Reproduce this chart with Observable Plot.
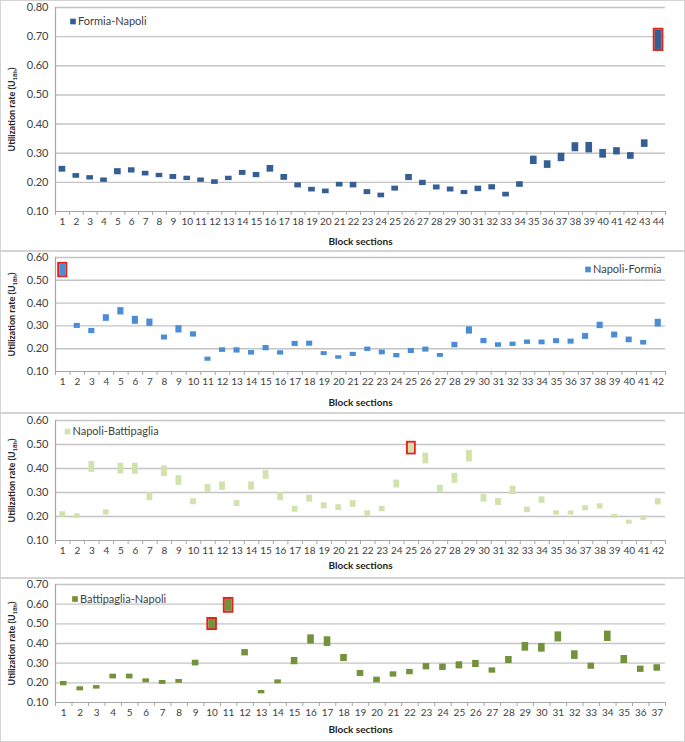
<!DOCTYPE html>
<html>
<head>
<meta charset="utf-8">
<script src="https://cdn.jsdelivr.net/npm/d3@7"></script>
<script src="https://cdn.jsdelivr.net/npm/@observablehq/plot@0.6"></script>
<style>
  html, body { margin: 0; padding: 0; background: #fff; }
  body { width: 685px; font-family: Lato, "Open Sans", sans-serif; }
  .panel { box-sizing: border-box; width: 685px; border: 1px solid #d4d4d4; overflow: hidden; }
  .panel svg { display: block; }
</style>
</head>
<body>
<div id="charts"></div>
<script>
// ---- Data (utilization rate ranges per block section) ----
const formiaNapoliLow  = [0.235,0.214,0.208,0.200,0.226,0.232,0.222,0.216,0.210,0.206,0.200,0.193,0.206,0.224,0.216,0.235,0.207,0.181,0.167,0.161,0.184,0.181,0.158,0.147,0.170,0.206,0.189,0.174,0.167,0.158,0.168,0.174,0.150,0.183,0.261,0.248,0.271,0.305,0.301,0.283,0.294,0.279,0.320,0.656];
const formiaNapoliHigh = [0.255,0.230,0.223,0.215,0.247,0.250,0.238,0.231,0.227,0.221,0.215,0.209,0.221,0.241,0.234,0.258,0.227,0.198,0.183,0.177,0.200,0.200,0.175,0.163,0.187,0.227,0.207,0.191,0.184,0.172,0.187,0.192,0.166,0.202,0.290,0.274,0.300,0.336,0.337,0.313,0.319,0.302,0.346,0.722];
const formiaNapoliFlag = [44];

const napoliFormiaLow  = [0.520,0.289,0.266,0.320,0.348,0.307,0.298,0.238,0.269,0.251,0.145,0.184,0.181,0.172,0.191,0.172,0.210,0.211,0.170,0.154,0.166,0.188,0.173,0.160,0.179,0.185,0.162,0.204,0.264,0.222,0.206,0.210,0.219,0.217,0.222,0.220,0.241,0.288,0.247,0.226,0.216,0.295];
const napoliFormiaHigh = [0.570,0.311,0.289,0.349,0.380,0.342,0.330,0.260,0.301,0.274,0.163,0.204,0.204,0.192,0.214,0.191,0.232,0.233,0.187,0.169,0.184,0.207,0.194,0.179,0.201,0.207,0.179,0.228,0.296,0.245,0.226,0.229,0.238,0.238,0.244,0.242,0.267,0.316,0.273,0.251,0.236,0.329];
const napoliFormiaFlag = [1];

const napoliBattipagliaLow  = [0.196,0.192,0.384,0.206,0.377,0.376,0.266,0.366,0.330,0.249,0.301,0.309,0.242,0.310,0.355,0.266,0.218,0.260,0.232,0.225,0.238,0.202,0.220,0.319,0.465,0.419,0.299,0.338,0.427,0.260,0.246,0.291,0.216,0.255,0.206,0.206,0.224,0.231,0.192,0.168,0.184,0.248];
const napoliBattipagliaHigh = [0.220,0.211,0.429,0.228,0.422,0.422,0.299,0.411,0.370,0.274,0.333,0.344,0.266,0.344,0.391,0.300,0.242,0.289,0.257,0.249,0.266,0.224,0.242,0.352,0.505,0.464,0.330,0.380,0.475,0.292,0.275,0.326,0.239,0.282,0.224,0.223,0.245,0.253,0.209,0.185,0.203,0.274];
const napoliBattipagliaFlag = [25];

const battipagliaNapoliLow  = [0.185,0.159,0.168,0.220,0.220,0.200,0.192,0.198,0.286,0.476,0.564,0.337,0.144,0.195,0.292,0.397,0.385,0.308,0.232,0.200,0.229,0.241,0.266,0.263,0.271,0.278,0.249,0.298,0.361,0.356,0.408,0.319,0.269,0.410,0.298,0.253,0.259];
const battipagliaNapoliHigh = [0.207,0.180,0.186,0.244,0.244,0.220,0.212,0.217,0.315,0.522,0.624,0.369,0.161,0.215,0.329,0.444,0.434,0.344,0.263,0.229,0.256,0.268,0.298,0.295,0.307,0.314,0.276,0.334,0.405,0.400,0.459,0.363,0.300,0.463,0.339,0.285,0.292];
const battipagliaNapoliFlag = [10, 11];

const yTickStep = 0.1;
const xTitle = "Block sections";
const yTitle = "Utilization rate (U18h)";

const FONT = 'Lato, "Open Sans", sans-serif';
const TEXT = "#404040";
const GRID = "#c4c4c4";
const AXIS = "#a6a6a6";

function panel(o) {
  const n = o.low.length;
  const blocks = d3.range(1, n + 1);
  const data = blocks.map((b, i) => ({block: b, lo: o.low[i], hi: o.high[i], flag: o.flag.includes(b)}));
  const yTicks = d3.range(1, Math.round(o.yMax / yTickStep) + 1).map(k => +(k * yTickStep).toFixed(2));
  const bounds = d3.range(0, n + 1).map(k => k + 0.5);
  const hw = o.halfW;
  const plot = Plot.plot({
    width: 683,
    height: o.height,
    marginLeft: 54,
    marginRight: 19,
    marginTop: o.marginTop,
    marginBottom: o.marginBottom,
    style: {fontFamily: FONT, fontSize: "11px", color: TEXT, background: "#fff", overflow: "visible"},
    x: {domain: [0.5, n + 0.5], axis: null},
    y: {domain: [yTicks[0], yTicks[yTicks.length - 1]], axis: null},
    marks: [
      Plot.gridY(yTicks.slice(1), {stroke: GRID, strokeOpacity: 1, strokeWidth: 1.4}),
      Plot.ruleY([yTicks[0]], {stroke: AXIS, strokeWidth: 1.2}),
      Plot.ruleX([bounds[0]], {stroke: AXIS, strokeWidth: 1.2}),
      Plot.axisY({ticks: yTicks, tickSize: 0, tickPadding: 7, tickFormat: d3.format(".2f"), fill: TEXT, fontSize: 11}),
      Plot.axisX({ticks: bounds, tickSize: 4, tickFormat: () => "", stroke: AXIS, label: null}),
      Plot.axisX({ticks: blocks, tickSize: 0, tickPadding: 6, tickFormat: d => String(d), fill: TEXT, fontSize: 10, label: null}),
      Plot.rect(data.filter(d => d.flag), {x1: d => d.block - hw, x2: d => d.block + hw, y1: "lo", y2: "hi", inset: -1, fill: "none", stroke: "#e3231c", strokeWidth: 2}),
      Plot.rect(data, {x1: d => d.block - hw, x2: d => d.block + hw, y1: "lo", y2: "hi", fill: o.color}),
      Plot.dot([o.name], {frameAnchor: "top-left", dx: o.legDx, dy: o.legDy, symbol: "square", r: 3.2, fill: o.color, stroke: "none"}),
      Plot.text([o.name], {frameAnchor: "top-left", dx: o.legDx + 5, dy: o.legDy, textAnchor: "start", lineAnchor: "middle", fill: TEXT, fontSize: 11}),
      Plot.text([xTitle], {frameAnchor: "bottom", dy: o.titleDy, lineAnchor: "middle", fontWeight: "bold", fontSize: 10, fill: "#222"}),
      Plot.text([yTitle], {frameAnchor: "left", dx: -43, rotate: -90, textAnchor: "middle", lineAnchor: "middle", fontWeight: "bold", fontSize: 9, fill: "#222"})
    ]
  });
  plot.querySelectorAll("text").forEach(t => {
    if (t.textContent === yTitle) {
      t.textContent = "";
      t.appendChild(document.createTextNode("Utilization rate (U"));
      const s = document.createElementNS("http://www.w3.org/2000/svg", "tspan");
      s.setAttribute("font-size", "6");
      s.setAttribute("dy", "2");
      s.textContent = "18h";
      t.appendChild(s);
      const e = document.createElementNS("http://www.w3.org/2000/svg", "tspan");
      e.setAttribute("dy", "-2");
      e.textContent = ")";
      t.appendChild(e);
    }
  });
  const div = document.createElement("div");
  div.className = "panel";
  div.style.height = (o.height + 2) + "px";
  div.appendChild(plot);
  document.getElementById("charts").appendChild(div);
}

panel({name: "Formia-Napoli", color: "#355f94", low: formiaNapoliLow, high: formiaNapoliHigh, flag: formiaNapoliFlag,
  yMax: 0.8, height: 249, marginTop: 6, marginBottom: 39, halfW: 0.24, legDx: 17.5, legDy: 14, titleDy: 30});
panel({name: "Napoli-Formia", color: "#4a8cd6", low: napoliFormiaLow, high: napoliFormiaHigh, flag: napoliFormiaFlag,
  yMax: 0.6, height: 160, marginTop: 5, marginBottom: 41, halfW: 0.21, legDx: 532.5, legDy: 12, titleDy: 31});
panel({name: "Napoli-Battipaglia", color: "#d1e2ad", low: napoliBattipagliaLow, high: napoliBattipagliaHigh, flag: napoliBattipagliaFlag,
  yMax: 0.6, height: 163, marginTop: 6, marginBottom: 37, halfW: 0.2, legDx: 12, legDy: 11, titleDy: 25});
panel({name: "Battipaglia-Napoli", color: "#74923a", low: battipagliaNapoliLow, high: battipagliaNapoliHigh, flag: battipagliaNapoliFlag,
  yMax: 0.7, height: 162, marginTop: 5, marginBottom: 39, halfW: 0.2, legDx: 19.5, legDy: 14.5, titleDy: 27});
</script>
</body>
</html>
